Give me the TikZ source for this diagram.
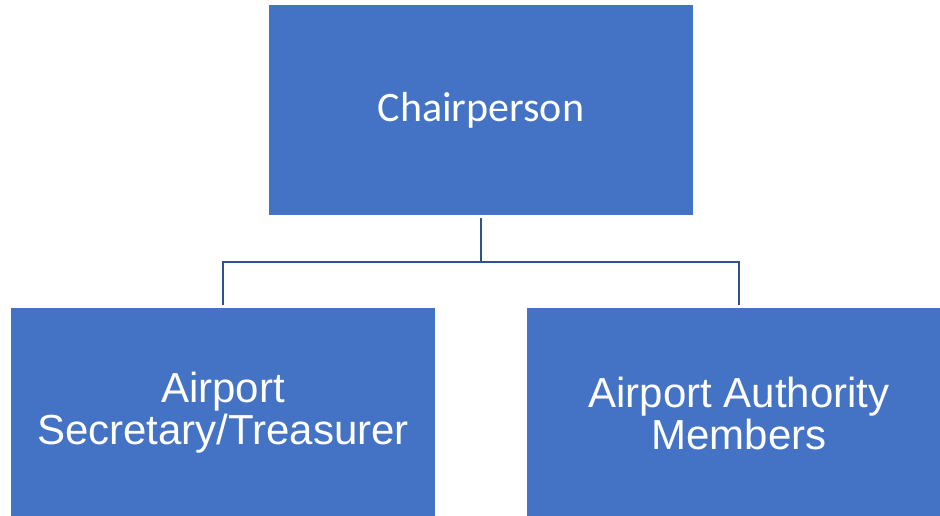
\documentclass[tikz,border=0pt]{standalone}
\usepackage{fontspec}
\setmainfont{Liberation Sans}
\newfontfamily\chairfont{Carlito}
\usepackage{tikz}
\usetikzlibrary{calc}
\definecolor{boxblue}{HTML}{4472C4}
\definecolor{lineblue}{HTML}{2F528F}
\tikzset{
  rolebox/.style={fill=boxblue,text=white,minimum width=424bp,minimum height=210bp,
    inner sep=0pt,align=center,font=\fontsize{42bp}{42bp}\selectfont},
  orgline/.style={lineblue,line width=2bp}
}

\begin{document}
\begin{tikzpicture}[x=1bp,y=-1bp]
      \useasboundingbox (0,0) rectangle (940,516);
      \node[rolebox,font=\chairfont\fontsize{42bp}{42bp}\selectfont] (chair) at (481,110) {Chairperson};
      \node[rolebox] (secretary) at (223,413) {Airport\\Secretary/Treasurer};
      \node[rolebox] (members) at (739,413) {Airport Authority\\Members};
      \coordinate (fork) at (481,262);
      \draw[orgline,shorten <=3bp] (chair.south) -- (fork);
      \draw[orgline,shorten >=3bp] (fork) -| (secretary.north);
      \draw[orgline,shorten >=3bp] (fork) -| (members.north);
    \end{tikzpicture}
\end{document}
